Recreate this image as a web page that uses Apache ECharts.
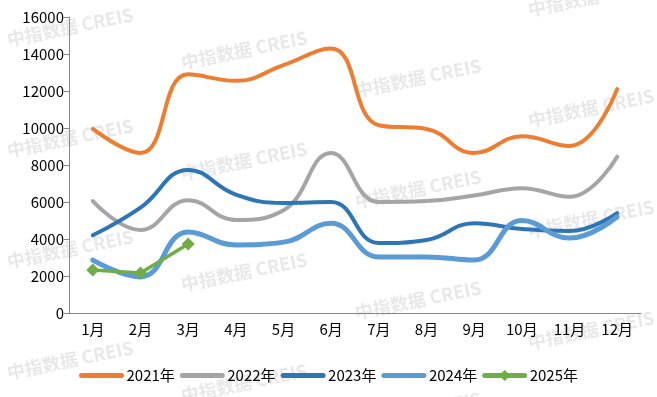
<!DOCTYPE html>
<html>
<head>
<meta charset="utf-8">
<script src="https://cdn.jsdelivr.net/npm/echarts@6/dist/echarts.min.js"></script>
<style>
  html, body { margin: 0; padding: 0; background: #fff; }
  #chart { width: 657px; height: 397px; }
</style>
</head>
<body>
<div id="chart"></div>
<script>
const months = ['1月', '2月', '3月', '4月', '5月', '6月', '7月', '8月', '9月', '10月', '11月', '12月'];
const y2021 = [9950, 8650, 12900, 12550, 13400, 14300, 10150, 9950, 8650, 9550, 9030, 12100];
const y2022 = [6050, 4490, 6100, 5030, 5550, 8650, 6000, 6050, 6350, 6750, 6280, 8450];
const y2023 = [4200, 5700, 7730, 6400, 5950, 6000, 3780, 3950, 4850, 4540, 4430, 5400];
const y2024 = [2860, 1950, 4380, 3680, 3830, 4850, 3030, 3030, 2860, 5000, 4050, 5200];
const y2025 = [2320, 2160, 3730];
const yTicks = [0, 2000, 4000, 6000, 8000, 10000, 12000, 14000, 16000];

const font = '"Noto Sans CJK SC", "DejaVu Sans", sans-serif';

// watermark tiles
const marks = [];
const colX = [70, 244, 418, 591];
const colY0 = [27, 50, 78, -3];
colX.forEach((x, c) => {
    for (let r = -1; r < 5; r++) {
        marks.push({
            type: 'text',
            x: x,
            y: colY0[c] + r * 111,
            rotation: 0.2,
            z: -10,
            silent: true,
            style: {
                text: '中指数据 CREIS',
                fill: 'rgba(210,210,210,0.5)',
                font: 'bold 18px ' + font,
                align: 'center',
                verticalAlign: 'middle'
            }
        });
    }
});

const chart = echarts.init(document.getElementById('chart'));

function lineSeries(name, data, color, width) {
    return {
        name: name,
        type: 'line',
        data: data,
        smooth: 0.45,
        symbol: 'none',
        lineStyle: { color: color, width: width, cap: 'round' },
        itemStyle: { color: color }
    };
}

function legendItem(name, noDot) {
    const item = { name: name, lineStyle: { width: 5, cap: 'round' } };
    if (noDot) item.itemStyle = { opacity: 0 };
    return item;
}

const option = {
    animation: false,
    graphic: marks,
    grid: { left: 69, right: 16, top: 17, bottom: 84 },
    legend: {
        bottom: 9,
        left: 'center',
        itemWidth: 40,
        itemHeight: 14,
        itemGap: 5,
        textStyle: { fontFamily: font, fontSize: 15, color: '#000' },
        data: [
            legendItem('2021年', true),
            legendItem('2022年', true),
            legendItem('2023年', true),
            legendItem('2024年', true),
            legendItem('2025年', false)
        ]
    },
    xAxis: {
        type: 'category',
        data: months,
        boundaryGap: true,
        axisLine: { lineStyle: { color: '#868686' } },
        axisTick: { length: 5, lineStyle: { color: '#868686' } },
        axisLabel: { fontFamily: font, fontSize: 15, color: '#000', margin: 9 }
    },
    yAxis: {
        type: 'value',
        min: yTicks[0],
        max: yTicks[yTicks.length - 1],
        interval: 2000,
        splitLine: { show: false },
        axisLine: { show: true, lineStyle: { color: '#868686' } },
        axisTick: { show: true, length: 5, lineStyle: { color: '#868686' } },
        axisLabel: { fontFamily: font, fontSize: 15, color: '#000', margin: 5, formatter: v => String(v) }
    },
    series: [
        lineSeries('2021年', y2021, '#ED7D31', 4),
        lineSeries('2022年', y2022, '#A5A5A5', 4),
        lineSeries('2023年', y2023, '#2E75B6', 4),
        lineSeries('2024年', y2024, '#5B9BD5', 5),
        {
            name: '2025年',
            type: 'line',
            data: y2025,
            smooth: false,
            symbol: 'diamond',
            symbolSize: 13,
            lineStyle: { color: '#70AD47', width: 3.5 },
            itemStyle: { color: '#70AD47' }
        }
    ]
};

chart.setOption(option);
</script>
</body>
</html>
